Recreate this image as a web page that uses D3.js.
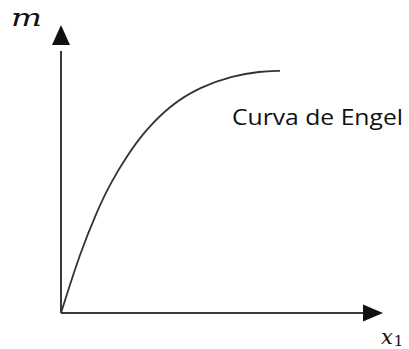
<!DOCTYPE html>
<html><head><meta charset="utf-8">
<script src="https://cdn.jsdelivr.net/npm/d3@7"></script>
<style>html,body{margin:0;padding:0;background:#fff;}svg{display:block;}</style>
</head><body>
<svg id="c" width="409" height="349"></svg>
<script>
// Engel curve (income m vs quantity x1), arbitrary units
const curveX = [0, 0.59, 1.12, 1.52, 2.05, 2.55, 3.39, 4.32, 5.34, 6.18, 6.80];
const curveY = [0, 2.08, 3.54, 4.48, 5.45, 6.25, 7.22, 7.85, 8.24, 8.39, 8.41];
const yLabel = "m";
const xLabel = "x";
const xSub = "1";
const curveLabel = "Curva de Engel";

const svg = d3.select("#c");
const x = d3.scaleLinear().domain([0, 10]).range([61, 383]);
const y = d3.scaleLinear().domain([0, 10]).range([313, 25]);

const axisColor = "#3a3a3a";
// axes lines
svg.append("line").attr("x1", x(0)).attr("y1", y(0)).attr("x2", x(0)).attr("y2", y(9.1))
  .attr("stroke", axisColor).attr("stroke-width", 2);
svg.append("line").attr("x1", x(0)).attr("y1", y(0)).attr("x2", x(9.4)).attr("y2", y(0))
  .attr("stroke", axisColor).attr("stroke-width", 2);
// arrowheads
const ty = [x(0), y(10)];
svg.append("path").attr("d", `M${ty[0]},${ty[1]} L${ty[0]-9},${ty[1]+20} L${ty[0]+9},${ty[1]+20} Z`).attr("fill", "#111");
const tx = [x(10), y(0)];
svg.append("path").attr("d", `M${tx[0]},${tx[1]} L${tx[0]-20},${tx[1]-8.5} L${tx[0]-20},${tx[1]+8.5} Z`).attr("fill", "#111");

// curve
const pts = curveX.map((v, i) => [v, curveY[i]]);
const line = d3.line().x(d => x(d[0])).y(d => y(d[1])).curve(d3.curveBasis);
svg.append("path").attr("d", line(pts)).attr("fill", "none").attr("stroke", "#333").attr("stroke-width", 1.8);

// labels
svg.append("text").attr("x", 11).attr("y", 26).attr("font-family", "DejaVu Serif").attr("font-style", "italic")
  .attr("font-size", 25).attr("fill", "#111").attr("textLength", 31).attr("lengthAdjust", "spacingAndGlyphs").text(yLabel);
const xl = svg.append("text").attr("x", 381).attr("y", 344).attr("font-family", "DejaVu Serif").attr("font-style", "italic")
  .attr("font-size", 21).attr("fill", "#111");
xl.append("tspan").text(xLabel);
xl.append("tspan").attr("font-style", "normal").attr("font-size", 15).attr("dx", 1).attr("dy", 2).text(xSub);
svg.append("text").attr("x", 232).attr("y", 125).attr("font-family", "Open Sans").attr("font-size", 21)
  .attr("fill", "#111").attr("textLength", 171).attr("lengthAdjust", "spacingAndGlyphs").text(curveLabel);
</script>
</body></html>
